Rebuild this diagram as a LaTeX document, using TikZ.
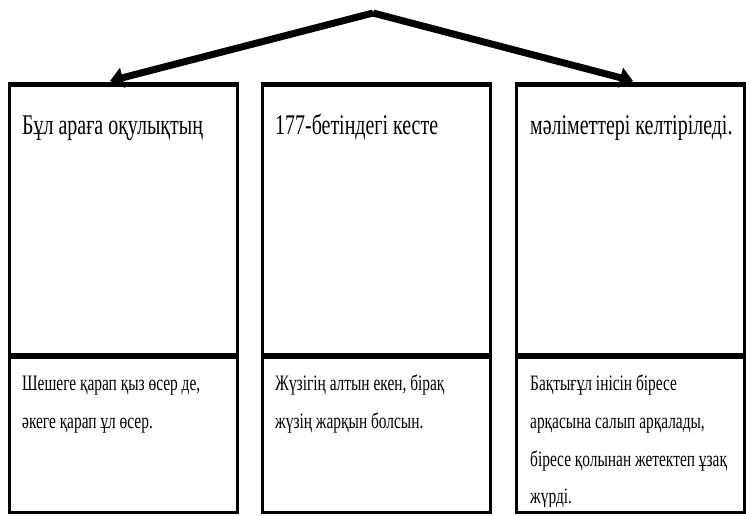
\documentclass[tikz,border=0pt]{standalone}
\usepackage{fontspec}
\setmainfont{Liberation Serif}[FakeStretch=0.7]
\usetikzlibrary{arrows.meta}
\tikzset{
  frame/.style={draw, line width=3pt, minimum width=228pt, inner sep=0pt, anchor=north},
  topbar/.style={line width=5.5pt},
  divbar/.style={line width=6pt},
  headtxt/.style={anchor=base west, inner sep=0pt, font=\fontsize{28.5}{31}\selectfont},
  bodytxt/.style={anchor=base west, inner sep=0pt, font=\fontsize{22}{26}\selectfont},
  bigarrow/.style={line width=7pt, line join=miter, -{Triangle[length=13pt,width=20pt]}}
}
\begin{document}
\begin{tikzpicture}[x=1pt,y=-1pt]
\useasboundingbox (0,0) rectangle (746,516);
% boxes
\foreach \n/\cx in {1/123,2/376.5,3/630}{
  \node[frame, minimum height=271.5pt] (top\n) at (\cx,84.5) {};
  \node[frame, minimum height=155pt] (bot\n) at (\cx,356) {};
  \draw[topbar] (top\n.north west) -- (top\n.north east);
  \draw[divbar] (bot\n.north west) -- (bot\n.north east);
}
% arrows
\coordinate (apex) at (373,13);
\coordinate (tipL) at (110,81);
\coordinate (tipR) at (633,81);
\draw[bigarrow] (apex) -- (tipL);
\draw[bigarrow] (apex) -- (tipR);
% head texts
\node[headtxt] (h1) at (22,134) {Бұл арағ\char"0430{} оқулықтың};
\node[headtxt] (h2) at (275,134) {177-бетіндегі кесте};
\node[headtxt] (h3) at (530,134) {мәліметтері келтіріледі.};
% body texts
\node[bodytxt] (a1) at (22,390) {Шешеге қарап қыз өсер де,};
\node[bodytxt] (a2) at (22,428) {әкеге қарап ұл өсер.};
\node[bodytxt] (b1) at (275,390) {Жүзігің алтын екен, бірақ};
\node[bodytxt] (b2) at (275,428) {жүзің жарқын болсын.};
\node[bodytxt] (c1) at (530,390) {Бақтығұл інісін біресе};
\node[bodytxt] (c2) at (530,428) {арқасына салып арқалады,};
\node[bodytxt] (c3) at (530,466) {біресе қолынан жетектеп ұзақ};
\begin{scope}
  \clip (517.5,360) rectangle (742.5,506.5);
  \node[bodytxt] (c4) at (530,503) {жүрді.};
\end{scope}
\end{tikzpicture}
\end{document}
